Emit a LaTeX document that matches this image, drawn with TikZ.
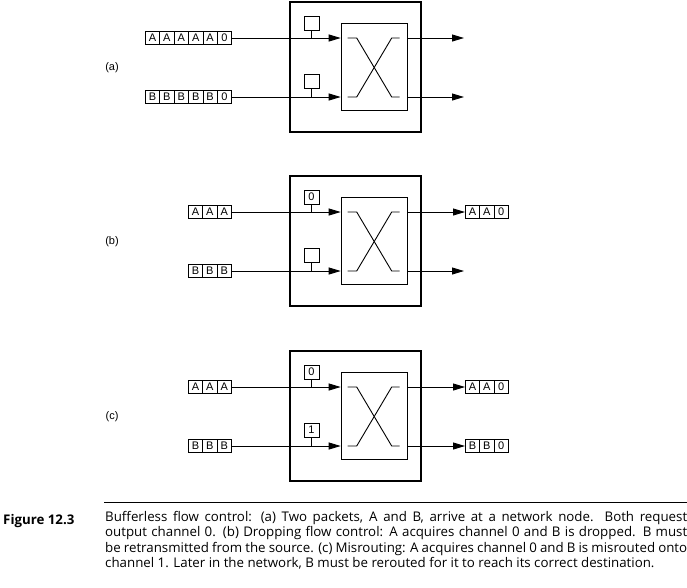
\documentclass[tikz,border=0pt]{standalone}
\usepackage{fontspec}
\setmainfont{Liberation Sans}
\newfontfamily\capfont{Open Sans}[BoldFont={Open Sans Bold}]
\usetikzlibrary{arrows.meta,positioning}

\tikzset{
    flit/.style={draw, line width=0.6pt, minimum width=14.4pt, minimum height=13pt,
        inner sep=0pt, font=\fontsize{11}{11}\selectfont},
    reqbox/.style={draw, line width=0.6pt, minimum width=15pt, minimum height=14pt,
        inner sep=0pt, font=\fontsize{11}{11}\selectfont},
    router/.style={draw, line width=2.2pt, minimum width=131pt, minimum height=130pt, inner sep=0pt},
    xbar/.style={draw, line width=0.6pt, minimum width=66pt, minimum height=87pt, inner sep=0pt},
    wire/.style={line width=0.9pt},
    arr/.style={wire, -{Triangle[length=12pt, width=7pt]}},
    xline/.style={line width=0.9pt},
}

% a row of flits, each one a named node: name, left end, letters
\newcommand{\flits}[3]{%
    \foreach \l [count=\i] in {#3}
        \node[flit, anchor=west] (#1\i) at ([xshift={(\i-1)*14.4}]#2) {\l};}

\begin{document}
\begin{tikzpicture}[x=1pt, y=-1pt]
    \useasboundingbox (0,0) rectangle (687,587);

    % Node with crossbar and request registers, one per panel
    \foreach \p/\yo/\ra/\rb in {a/0/{}/{}, b/174/0/{}, c/349/0/1} {
        \begin{scope}[yshift=-\yo pt]
            \coordinate (ya\p) at (0,38);
            \coordinate (yb\p) at (0,97);
            \node[font=\fontsize{11}{11}\selectfont] (lab\p) at (112,67.5) {(\p)};
            \node[router] (node\p) at (355.5,67) {};
            \node[xbar] (sw\p) at (374,66.5) {};
            % crossed paths
            \draw[xline] (sw\p.west |- ya\p) ++(7,0) -- ++(9,0) -- ++(35,59) -- ++(8,0);
            \draw[xline] (sw\p.west |- yb\p) ++(7,0) -- ++(9,0) -- ++(35,-59) -- ++(8,0);
            % request registers
            \node[reqbox] (rqa\p) at (311.5,23) {\ra};
            \node[reqbox] (rqb\p) at (311.5,81) {\rb};
            \draw[wire] (rqa\p.south) -- (rqa\p.south |- ya\p);
            \draw[wire] (rqb\p.south) -- (rqb\p.south |- yb\p);
        \end{scope}
    }

    % (a) both packets want channel 0
    \flits{fa}{145,38}{A,A,A,A,A,0}
    \flits{ga}{145,97}{B,B,B,B,B,0}
    \draw[arr] (fa6) -- (fa6 -| swa.west);
    \draw[arr] (ga6) -- (ga6 -| swa.west);
    \coordinate (outa1) at (464,38);
    \coordinate (outa2) at (464,97);
    \draw[arr] (swa.east |- outa1) -- (outa1);
    \draw[arr] (swa.east |- outa2) -- (outa2);

    % (b) B is dropped
    \flits{fb}{188,212}{A,A,A}
    \flits{gb}{188,271}{B,B,B}
    \flits{hb}{465,212}{A,A,0}
    \draw[arr] (fb3) -- (fb3 -| swb.west);
    \draw[arr] (gb3) -- (gb3 -| swb.west);
    \coordinate (outb2) at (464,271);
    \draw[arr] (swb.east |- hb1) -- (hb1);
    \draw[arr] (swb.east |- outb2) -- (outb2);

    % (c) B is misrouted
    \flits{fc}{188,387}{A,A,A}
    \flits{gc}{188,446}{B,B,B}
    \flits{hc}{465,387}{A,A,0}
    \flits{kc}{465,446}{B,B,0}
    \draw[arr] (fc3) -- (fc3 -| swc.west);
    \draw[arr] (gc3) -- (gc3 -| swc.west);
    \draw[arr] (swc.east |- hc1) -- (hc1);
    \draw[arr] (swc.east |- kc1) -- (kc1);

    % Caption
    \draw[line width=0.8pt] (104,502) -- (687,502);
    \node[anchor=base west, inner sep=0pt, font=\capfont\bfseries\fontsize{13.3}{15.5}\selectfont]
        (fig) at (3,524) {Figure 12.3};
    \node[anchor=north west, inner sep=0pt, text width=582pt, align=justify,
        font=\capfont\fontsize{13.3}{15.5}\selectfont] (cap) at (105,511)
        {Bufferless flow control: (a) Two packets, A and B, arrive at a network node. Both request\linebreak
        output channel 0. (b) Dropping flow control: A acquires channel 0 and B is dropped. B must\linebreak
        be retransmitted from the source. (c) Misrouting: A acquires channel 0 and B is misrouted onto\linebreak
        channel 1. Later in the network, B must be rerouted for it to reach its correct destination.};
\end{tikzpicture}
\end{document}
